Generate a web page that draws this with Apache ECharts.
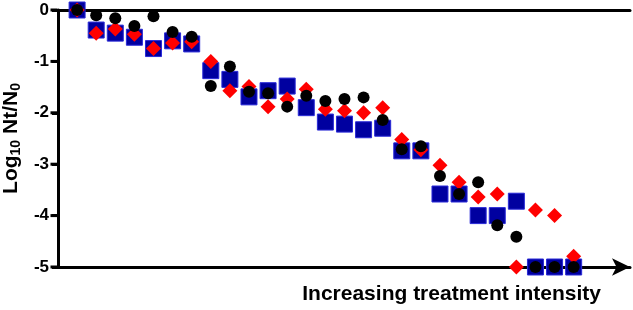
<!DOCTYPE html>
<html>
<head>
<meta charset="utf-8">
<script src="https://cdn.jsdelivr.net/npm/echarts@6/dist/echarts.min.js"></script>
<style>
  html, body { margin: 0; padding: 0; background: #fff; }
  #chart { width: 633px; height: 310px; }
</style>
</head>
<body>
<div id="chart"></div>
<script>
// treatment steps (x positions)
const steps = Array.from({ length: 27 }, (_, i) => i);

// log10 Nt/N0 for the three series
const squares = [0, -0.39, -0.45, -0.53, -0.75, -0.6, -0.66, -1.18, -1.35, -1.69, -1.57, -1.48, -1.9, -2.18, -2.22, -2.33, -2.3, -2.74, -2.74, -3.58, -3.58, -4.0, -4.0, -3.72, -5, -5, -5];
const diamonds = [0, -0.45, -0.37, -0.47, -0.75, -0.64, -0.62, -1.0, -1.57, -1.49, -1.88, -1.73, -1.54, -1.93, -1.96, -2.0, -1.9, -2.52, -2.72, -3.02, -3.35, -3.64, -3.58, -5.0, -3.89, -4.0, -4.79];
const circles = [0, -0.1, -0.16, -0.31, -0.12, -0.43, -0.52, -1.48, -1.1, -1.59, -1.62, -1.88, -1.67, -1.77, -1.73, -1.7, -2.14, -2.71, -2.65, -3.23, -3.58, -3.35, -4.19, -4.41, -5, -5, -5];

// y tick values
const yTicks = [0, -1, -2, -3, -4, -5];

const font = '"Liberation Sans", Arial, sans-serif';
const pairs = arr => steps.map((x, i) => [x, arr[i]]);
const xMin = -1;

const myChart = echarts.init(document.getElementById('chart'));

myChart.setOption({
  animation: false,
  grid: { left: 58, right: 3, top: 10, bottom: 43, containLabel: false, outerBoundsMode: 'none' },
  xAxis: [
    {
      type: 'value', min: xMin, max: 28.95, position: 'bottom',
      axisLine: { show: true, onZero: false, symbol: ['none', 'arrow'], symbolSize: [13, 18], symbolOffset: [0, 0], lineStyle: { color: '#000', width: 3 } },
      axisTick: { show: false }, axisLabel: { show: false }, splitLine: { show: false }
    },
    {
      type: 'value', min: xMin, max: 28.95, position: 'top',
      axisLine: { show: true, onZero: false, lineStyle: { color: '#000', width: 3 } },
      axisTick: { show: false }, axisLabel: { show: false }, splitLine: { show: false }
    }
  ],
  yAxis: {
    type: 'value', min: -5, max: 0, interval: 1,
    axisLine: { show: true, onZero: false, lineStyle: { color: '#000', width: 3 } },
    axisTick: { show: true, inside: false, length: 6, lineStyle: { color: '#000', width: 3 } },
    axisLabel: { color: '#000', fontSize: 17, fontWeight: 'bold', fontFamily: font, margin: 9 },
    splitLine: { show: false },
    name: 'Log{s|10} Nt/N{s|0}',
    nameLocation: 'middle', nameRotate: 90, nameGap: 34,
    nameTextStyle: {
      color: '#000', fontSize: 21, fontWeight: 'bold', fontFamily: font,
      rich: {
        s: { fontSize: 14, fontWeight: 'bold', fontFamily: font, color: '#000', padding: [9, 0, 0, 0] }
      }
    }
  },
  graphic: [{
    type: 'text', right: 32, top: 284,
    style: { text: 'Increasing treatment intensity', fill: '#000', font: 'bold 21px ' + font }
  }],
  series: [
    {
      // outward tick marks on the y axis
      type: 'scatter', data: yTicks.map(v => [xMin, v]), symbol: 'rect', symbolSize: [7, 3],
      symbolOffset: [-4, 0], clip: false, silent: true,
      itemStyle: { color: '#000', opacity: 1 }, z: 1
    },
    {
      type: 'scatter', data: pairs(squares), symbol: 'rect', symbolSize: 16,
      itemStyle: { color: '#0000a0', borderColor: '#2a2ad8', borderWidth: 1, opacity: 1 }, z: 2
    },
    {
      type: 'scatter', data: pairs(diamonds), symbol: 'diamond', symbolSize: [15, 15],
      itemStyle: { color: '#ff0000', opacity: 1 }, z: 3
    },
    {
      type: 'scatter', data: pairs(circles), symbol: 'circle', symbolSize: 12,
      itemStyle: { color: '#000', opacity: 1 }, z: 4
    }
  ]
});
</script>
</body>
</html>
